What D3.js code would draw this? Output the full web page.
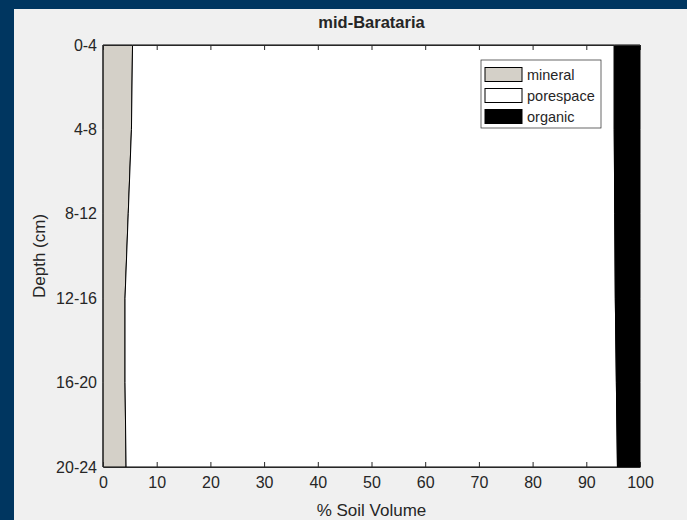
<!DOCTYPE html>
<html>
<head>
<meta charset="utf-8">
<script src="https://cdn.jsdelivr.net/npm/d3@7"></script>
<style>
    body { margin: 0; background: #003660; }
    svg { display: block; }
    text { font-family: "Liberation Sans", Arial, sans-serif; fill: #262626; }
</style>
</head>
<body>
<div id="chart"></div>
<script>
// depth bins (top to bottom)
let depthBins = ["0-4", "4-8", "8-12", "12-16", "16-20", "20-24"];

// % soil volume per bin
let mineral   = [5.5, 5.3, 4.7, 4.1, 4.1, 4.3];
let porespace = [89.7, 89.9, 90.6, 91.3, 91.5, 91.5];
let organic   = [4.8, 4.8, 4.7, 4.6, 4.4, 4.2];

let xTicks = [0, 10, 20, 30, 40, 50, 60, 70, 80, 90, 100];

let seriesNames = ["mineral", "porespace", "organic"];
let seriesColors = {mineral: "#d4d0c8", porespace: "#ffffff", organic: "#000000"};

let W = 687, H = 520;
let margin = {top: 45, right: 47, bottom: 53, left: 103};
let width = W - margin.left - margin.right;
let height = H - margin.top - margin.bottom;

let svg = d3.select("#chart").append("svg")
    .attr("width", W)
    .attr("height", H);

// figure background with the dark frame on top/left
svg.append("rect")
    .attr("x", 14).attr("y", 9)
    .attr("width", W - 14).attr("height", H - 9)
    .attr("fill", "#f0f0f0");

let g = svg.append("g")
    .attr("transform", `translate(${margin.left}, ${margin.top})`);

let x = d3.scaleLinear().domain([0, 100]).range([0, width]);
let y = d3.scalePoint().domain(depthBins).range([0, height]);

// build rows for the stack
let rows = depthBins.map((d, i) => ({
    depth: d, mineral: mineral[i], porespace: porespace[i], organic: organic[i]
}));
let stacked = d3.stack().keys(seriesNames)(rows);

let area = d3.area()
    .y(d => y(d.data.depth))
    .x0(d => x(d[0]))
    .x1(d => x(d[1]));

g.append("rect")
    .attr("width", width).attr("height", height)
    .attr("fill", "#ffffff");

g.selectAll(".layer")
    .data(stacked)
    .enter().append("path")
    .attr("class", "layer")
    .attr("d", area)
    .attr("fill", d => seriesColors[d.key])
    .attr("stroke", "#000")
    .attr("stroke-width", 1);

// x axis bottom + ticks on top edge
let xAxis = g.append("g")
    .attr("transform", `translate(0, ${height})`)
    .call(d3.axisBottom(x).tickValues(xTicks).tickSizeInner(-5).tickSizeOuter(0).tickPadding(10));
xAxis.select(".domain").attr("stroke", "#262626");
xAxis.selectAll(".tick line").attr("stroke", "#262626");
xAxis.selectAll(".tick text")
    .attr("font-size", 16).attr("fill", "#262626").attr("font-family", null);

let xTop = g.append("g")
    .call(d3.axisTop(x).tickValues(xTicks).tickSizeInner(-5).tickSizeOuter(0).tickFormat(""));
xTop.select(".domain").attr("stroke", "#262626");
xTop.selectAll(".tick line").attr("stroke", "#262626");

let yAxis = g.append("g")
    .call(d3.axisLeft(y).tickSize(0).tickPadding(6));
yAxis.select(".domain").remove();
yAxis.selectAll(".tick text")
    .attr("font-size", 16).attr("fill", "#262626").attr("font-family", null);

// left edge
g.append("line")
    .attr("x1", 0).attr("x2", 0).attr("y1", 0).attr("y2", height)
    .attr("stroke", "#262626");

// title and axis labels
svg.append("text")
    .attr("x", margin.left + width / 2).attr("y", 28)
    .attr("text-anchor", "middle")
    .attr("font-size", 16.5).attr("font-weight", "bold")
    .attr("fill", "#000")
    .text("mid-Barataria");

svg.append("text")
    .attr("x", margin.left + width / 2).attr("y", 516)
    .attr("text-anchor", "middle")
    .attr("font-size", 17)
    .text("% Soil Volume");

svg.append("text")
    .attr("transform", `translate(45, ${margin.top + height / 2}) rotate(-90)`)
    .attr("text-anchor", "middle")
    .attr("font-size", 17)
    .text("Depth (cm)");

// legend
let legend = svg.append("g").attr("transform", "translate(481, 60)");
legend.append("rect")
    .attr("width", 120).attr("height", 68)
    .attr("fill", "#fff").attr("stroke", "#262626").attr("stroke-width", 0.7);

let items = legend.selectAll(".item")
    .data(seriesNames)
    .enter().append("g")
    .attr("class", "item")
    .attr("transform", (d, i) => `translate(0, ${14.5 + i * 21})`);

items.append("rect")
    .attr("x", 4).attr("y", -7)
    .attr("width", 37).attr("height", 14)
    .attr("fill", d => seriesColors[d])
    .attr("stroke", "#000").attr("stroke-width", 1);

items.append("text")
    .attr("x", 46).attr("dy", "0.35em")
    .attr("font-size", 14.5)
    .attr("fill", "#000")
    .text(d => d);
</script>
</body>
</html>
